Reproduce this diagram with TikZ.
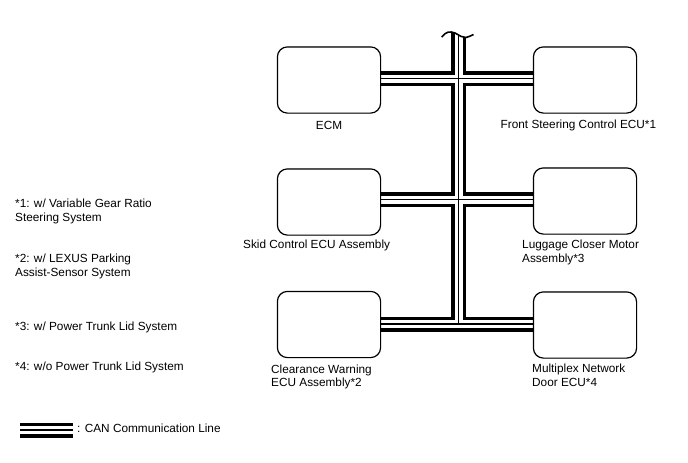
\documentclass[tikz,border=0pt]{standalone}
\usepackage{fontspec}
\setmainfont{Liberation Sans}
\begin{document}
\begin{tikzpicture}[x=1pt,y=-1pt,
  every node/.style={font=\fontsize{11.8pt}{13.6pt}\selectfont, inner sep=0pt},
  ecubox/.style={draw, line width=1.2pt, rounded corners=10pt, fill=white,
    minimum width=102pt, minimum height=65pt},
  lbl/.style={anchor=west, align=left},
  busout/.style={line width=15pt, black},
  busin/.style={line width=8pt, white},
  buscore/.style={line width=1.6pt, black}]
\useasboundingbox (0,0) rectangle (688,463);
% coordinates of the bus
\coordinate (top) at (458.5,33);
\coordinate (j1) at (458.5,78.5);
\coordinate (j2) at (458.5,199.5);
\coordinate (j3) at (458.5,324);
% ECU boxes (positions only, drawn later on top)
\path (329,80) node[ecubox] (ecm) {};
\path (585,80) node[ecubox] (fsc) {};
\path (329,202) node[ecubox] (skid) {};
\path (585,201) node[ecubox] (lug) {};
\path (329,324.5) node[ecubox] (clr) {};
\path (585,325) node[ecubox] (mpx) {};
\coordinate (lgA) at (20,430);
\coordinate (lgB) at (73,430);
\newcommand\canpaths[1]{%
  \draw[#1] (top) -- (j3);
  \draw[#1] (ecm.east |- j1) -- (fsc.west |- j1);
  \draw[#1] (skid.east |- j2) -- (lug.west |- j2);
  \draw[#1] (clr.east |- j3) -- (mpx.west |- j3);
  \draw[#1] (lgA) -- (lgB);
}
\canpaths{busout}
\canpaths{busin}
\canpaths{buscore}
% break mark at the top of the bus
\fill[white] (440,20) -- (441.7,37) .. controls (446,31.5) and (450,31) .. (455,33)
  .. controls (460,35.5) and (462,38) .. (466,37.5) .. controls (469,37) and (471,35.5) .. (473.5,34.5)
  -- (476,20) -- cycle;
\draw[line width=1.6pt] (441.7,37) .. controls (446,31.5) and (450,31) .. (455,33)
  .. controls (460,35.5) and (462,38) .. (466,37.5) .. controls (469,37) and (471,35.5) .. (473.5,34.5);
% boxes on top
\foreach \n in {ecm,fsc,skid,lug,clr,mpx} {\draw[line width=1.2pt, rounded corners=10pt, fill=white] (\n.south west) rectangle (\n.north east);}
% labels
\node[anchor=center] (tecm) at (329,125) {ECM};
\node[lbl] (tfsc) at (500.5,125) {Front Steering Control ECU*1};
\node[lbl] (tskid) at (243,245) {Skid Control ECU Assembly};
\node[lbl] (tlug) at (522,252.5) {Luggage Closer Motor\\Assembly*3};
\node[lbl] (tclr) at (271,377) {Clearance Warning\\ECU Assembly*2};
\node[lbl] (tmpx) at (532,375.5) {Multiplex Network\\Door ECU*4};
% notes
\node[lbl] (n1) at (15,211.5) {*1: w/ Variable Gear Ratio\\Steering System};
\node[lbl] (n2) at (15,266.5) {*2: w/ LEXUS Parking\\Assist-Sensor System};
\node[lbl] (n3) at (15,327) {*3: w/ Power Trunk Lid System};
\node[lbl] (n4) at (15,367) {*4: w/o Power Trunk Lid System};
\node[lbl] (tleg) at (77,428.5) {: CAN Communication Line};
\end{tikzpicture}
\end{document}
